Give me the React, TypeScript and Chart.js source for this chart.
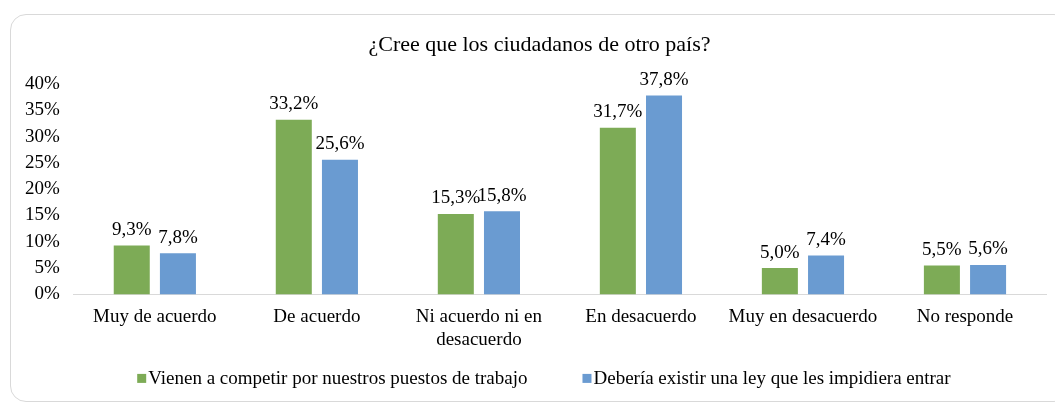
import React, { useEffect, useRef } from "react";
import { Chart, registerables } from "chart.js";

Chart.register(...registerables);

const title = "¿Cree que los ciudadanos de otro país?";
const categories: (string | string[])[] = [
  "Muy de acuerdo",
  "De acuerdo",
  ["Ni acuerdo ni en", "desacuerdo"],
  "En desacuerdo",
  "Muy en desacuerdo",
  "No responde",
];
const seriesNames = [
  "Vienen a competir por nuestros puestos de trabajo",
  "Debería existir una ley que les impidiera entrar",
];
const competir = [9.3, 33.2, 15.3, 31.7, 5.0, 5.5];
const ley = [7.8, 25.6, 15.8, 37.8, 7.4, 5.6];
const yTicks = [0, 5, 10, 15, 20, 25, 30, 35, 40];

const GREEN = "#7dab56";
const BLUE = "#6a9bd1";
const FONT = "'Liberation Serif', 'Times New Roman', serif";

const titlePlugin = {
  id: "customTitle",
  afterDraw(chart: any) {
    const ctx = chart.ctx;
    ctx.save();
    ctx.font = `22px ${FONT}`;
    ctx.fillStyle = "#000";
    ctx.textAlign = "center";
    ctx.textBaseline = "middle";
    ctx.fillText(title, chart.width / 2 + 12, 45);
    ctx.restore();
  },
};

const valueLabels = {
  id: "valueLabels",
  afterDatasetsDraw(chart: any) {
    const ctx = chart.ctx;
    ctx.save();
    ctx.font = `19px ${FONT}`;
    ctx.fillStyle = "#000";
    ctx.textAlign = "center";
    ctx.textBaseline = "bottom";
    chart.data.datasets.forEach((ds: any, i: number) => {
      const meta = chart.getDatasetMeta(i);
      meta.data.forEach((bar: any, j: number) => {
        const v = ds.data[j] as number;
        ctx.fillText(v.toFixed(1).replace(".", ",") + "%", bar.x, bar.y - 6);
      });
    });
    ctx.restore();
  },
};

const customLegend = {
  id: "customLegend",
  afterDraw(chart: any) {
    const ctx = chart.ctx;
    ctx.save();
    ctx.font = `19px ${FONT}`;
    ctx.fillStyle = "#000";
    ctx.textBaseline = "middle";
    const box = 9;
    const gapBox = 2;
    const gapItems = 55;
    const items = chart.data.datasets.map((ds: any) => ({
      label: ds.label,
      color: ds.backgroundColor,
      w: box + gapBox + ctx.measureText(ds.label).width,
    }));
    const total = items.reduce((s: number, it: any) => s + it.w, 0) + gapItems * (items.length - 1);
    let x = (chart.chartArea.left + chart.chartArea.right) / 2 - 16 - total / 2;
    const y = chart.chartArea.bottom + 84;
    items.forEach((it: any) => {
      ctx.fillStyle = it.color;
      ctx.fillRect(x, y - box / 2, box, box);
      ctx.fillStyle = "#000";
      ctx.textAlign = "left";
      ctx.fillText(it.label, x + box + gapBox, y + 1);
      x += it.w + gapItems;
    });
    ctx.restore();
  },
};

export default function App() {
  const ref = useRef<HTMLCanvasElement | null>(null);
  useEffect(() => {
    document.body.style.margin = "0";
    const chart = new Chart(ref.current as HTMLCanvasElement, {
      type: "bar",
      data: {
        labels: categories,
        datasets: [
          {
            label: seriesNames[0],
            data: competir,
            backgroundColor: GREEN,
            barPercentage: 0.78,
            categoryPercentage: 0.57,
          },
          {
            label: seriesNames[1],
            data: ley,
            backgroundColor: BLUE,
            barPercentage: 0.78,
            categoryPercentage: 0.57,
          },
        ],
      },
      options: {
        animation: false,
        responsive: false,
        layout: { padding: { left: 11, right: 9, top: 84, bottom: 41 } },
        plugins: {
          legend: { display: false },
          tooltip: { enabled: false },
          title: { display: false },
        },
        scales: {
          x: {
            grid: { display: false, drawTicks: false },
            border: { display: true, color: "#d9d9d9", width: 1 },
            ticks: {
              color: "#000",
              font: { family: FONT, size: 19 },
              padding: 11,
              maxRotation: 0,
              autoSkip: false,
            },
          },
          y: {
            min: 0,
            max: 40,
            afterBuildTicks: (axis: any) => {
              axis.ticks = yTicks.map((v) => ({ value: v }));
            },
            grid: { display: false, drawTicks: false },
            border: { display: false },
            ticks: {
              color: "#000",
              font: { family: FONT, size: 19 },
              padding: 14,
              callback: (v: any) => v + "%",
            },
          },
        },
      },
      plugins: [valueLabels, customLegend, titlePlugin],
    });
    return () => chart.destroy();
  }, []);
  return (
    <div style={{ position: "relative", width: 1055, height: 403, overflow: "hidden" }}>
      <div
        style={{
          position: "absolute",
          left: 10,
          top: 14,
          width: 1060,
          height: 388,
          border: "1px solid #d9d9d9",
          borderRadius: 16,
          boxSizing: "border-box",
        }}
      />
      <canvas ref={ref} width={1055} height={403} style={{ position: "absolute", left: 0, top: 0 }} />
    </div>
  );
}
